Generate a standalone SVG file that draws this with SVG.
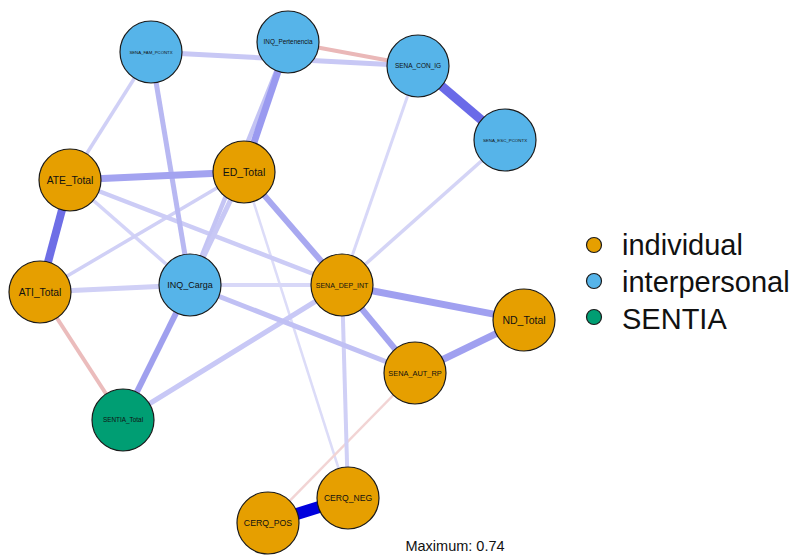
<svg xmlns="http://www.w3.org/2000/svg" width="801" height="555" viewBox="0 0 801 555">
<style>
.e{fill:none;stroke-linecap:butt}
.n circle{stroke:#1a1a1a;stroke-width:1.2}
.ind{fill:#E69F00}
.int{fill:#56B4E9}
.sen{fill:#009E73}
text{font-family:"Liberation Sans",Arial,sans-serif;fill:#111;text-anchor:middle}
.lg{font-size:29px;text-anchor:start}
</style>
<rect width="801" height="555" fill="#fff"/>
<g id="connectors">
<line class="e" x1="244" y1="172" x2="348" y2="498" stroke="#dcdcf8" stroke-width="2.5"/>
<line class="e" x1="415" y1="373" x2="268" y2="523" stroke="#f2d4d4" stroke-width="2.5"/>
<line class="e" x1="418" y1="66" x2="342" y2="285" stroke="#d8d8f8" stroke-width="3"/>
<line class="e" x1="505" y1="140" x2="342" y2="285" stroke="#d4d4f6" stroke-width="3.5"/>
<line class="e" x1="151" y1="52" x2="70" y2="180" stroke="#d0d0f6" stroke-width="3.5"/>
<line class="e" x1="70" y1="180" x2="190" y2="285" stroke="#d4d4f8" stroke-width="3.5"/>
<line class="e" x1="244" y1="172" x2="40" y2="292" stroke="#d0d0f6" stroke-width="3.5"/>
<line class="e" x1="190" y1="285" x2="342" y2="285" stroke="#d8d8f8" stroke-width="4"/>
<line class="e" x1="342" y1="285" x2="348" y2="498" stroke="#d0d0f6" stroke-width="4"/>
<line class="e" x1="70" y1="180" x2="342" y2="285" stroke="#ccccf6" stroke-width="4.5"/>
<line class="e" x1="190" y1="285" x2="288" y2="42" stroke="#c4c4f4" stroke-width="4.5"/>
<line class="e" x1="151" y1="52" x2="418" y2="66" stroke="#c8c8f5" stroke-width="5"/>
<line class="e" x1="40" y1="292" x2="190" y2="285" stroke="#d0d0f6" stroke-width="5"/>
<line class="e" x1="244" y1="172" x2="190" y2="285" stroke="#c8c8f5" stroke-width="5"/>
<line class="e" x1="342" y1="285" x2="123" y2="420" stroke="#c8c8f6" stroke-width="5"/>
<line class="e" x1="190" y1="285" x2="415" y2="373" stroke="#c0c0f4" stroke-width="5"/>
<line class="e" x1="151" y1="52" x2="190" y2="285" stroke="#b8b8f2" stroke-width="5"/>
<line class="e" x1="288" y1="42" x2="418" y2="66" stroke="#eab8b8" stroke-width="4"/>
<line class="e" x1="40" y1="292" x2="123" y2="420" stroke="#ebbcbc" stroke-width="4"/>
<line class="e" x1="244" y1="172" x2="342" y2="285" stroke="#a8a8f0" stroke-width="6"/>
<line class="e" x1="342" y1="285" x2="415" y2="373" stroke="#a4a4f0" stroke-width="6"/>
<line class="e" x1="190" y1="285" x2="123" y2="420" stroke="#a0a0ee" stroke-width="6"/>
<line class="e" x1="70" y1="180" x2="244" y2="172" stroke="#a3a3f0" stroke-width="7"/>
<line class="e" x1="342" y1="285" x2="524" y2="320" stroke="#a0a0f0" stroke-width="7"/>
<line class="e" x1="524" y1="320" x2="415" y2="373" stroke="#a0a0f0" stroke-width="7"/>
<line class="e" x1="288" y1="42" x2="244" y2="172" stroke="#9a9af0" stroke-width="7"/>
<line class="e" x1="70" y1="180" x2="40" y2="292" stroke="#6e6ee6" stroke-width="8"/>
<line class="e" x1="418" y1="66" x2="505" y2="140" stroke="#6a6ae8" stroke-width="9"/>
<line class="e" x1="268" y1="523" x2="348" y2="498" stroke="#0000dd" stroke-width="12"/>
</g>
<g id="SENA_FAM_PCONTX" class="n"><circle cx="151" cy="52" r="31" class="int"/><text x="151" y="53.5" font-size="4.3">SENA_FAM_PCONTX</text></g>
<g id="INQ_Pertenencia" class="n"><circle cx="288" cy="42" r="31" class="int"/><text x="288" y="44.2" font-size="6.4">INQ_Pertenencia</text></g>
<g id="SENA_CON_IG" class="n"><circle cx="418" cy="66" r="31" class="int"/><text x="418" y="68.3" font-size="6.5">SENA_CON_IG</text></g>
<g id="SENA_ESC_PCONTX" class="n"><circle cx="505" cy="140" r="31" class="int"/><text x="505" y="141.5" font-size="4.4">SENA_ESC_PCONTX</text></g>
<g id="ATE_Total" class="n"><circle cx="70" cy="180" r="31" class="ind"/><text x="70" y="183.7" font-size="10.3">ATE_Total</text></g>
<g id="ED_Total" class="n"><circle cx="244" cy="172" r="31" class="ind"/><text x="244" y="175.7" font-size="10.5">ED_Total</text></g>
<g id="INQ_Carga" class="n"><circle cx="190" cy="285" r="31" class="int"/><text x="190" y="288.2" font-size="9">INQ_Carga</text></g>
<g id="SENA_DEP_INT" class="n"><circle cx="342" cy="285" r="31" class="ind"/><text x="342" y="287.5" font-size="7">SENA_DEP_INT</text></g>
<g id="ND_Total" class="n"><circle cx="524" cy="320" r="31" class="ind"/><text x="524" y="323.7" font-size="10.5">ND_Total</text></g>
<g id="SENA_AUT_RP" class="n"><circle cx="415" cy="373" r="31" class="ind"/><text x="415" y="375.6" font-size="7.4">SENA_AUT_RP</text></g>
<g id="ATI_Total" class="n"><circle cx="40" cy="292" r="31" class="ind"/><text x="40" y="295.7" font-size="10.3">ATI_Total</text></g>
<g id="SENTIA_Total" class="n"><circle cx="123" cy="420" r="31" class="sen"/><text x="123" y="422.2" font-size="6.4">SENTIA_Total</text></g>
<g id="CERQ_POS" class="n"><circle cx="268" cy="523" r="31" class="ind"/><text x="268" y="526" font-size="8.7">CERQ_POS</text></g>
<g id="CERQ_NEG" class="n"><circle cx="348" cy="498" r="31" class="ind"/><text x="348" y="501" font-size="8.6">CERQ_NEG</text></g>
<g id="legend">
<circle cx="594" cy="245" r="7.5" class="ind" stroke="#1a1a1a" stroke-width="1.2"/>
<circle cx="594" cy="281" r="7.5" class="int" stroke="#1a1a1a" stroke-width="1.2"/>
<circle cx="594" cy="317" r="7.5" class="sen" stroke="#1a1a1a" stroke-width="1.2"/>
<text x="622" y="255" class="lg">individual</text>
<text x="622" y="292" class="lg">interpersonal</text>
<text x="622" y="329" class="lg">SENTIA</text>
</g>
<text x="455" y="551" font-size="14.5" fill="#222">Maximum: 0.74</text>
</svg>
